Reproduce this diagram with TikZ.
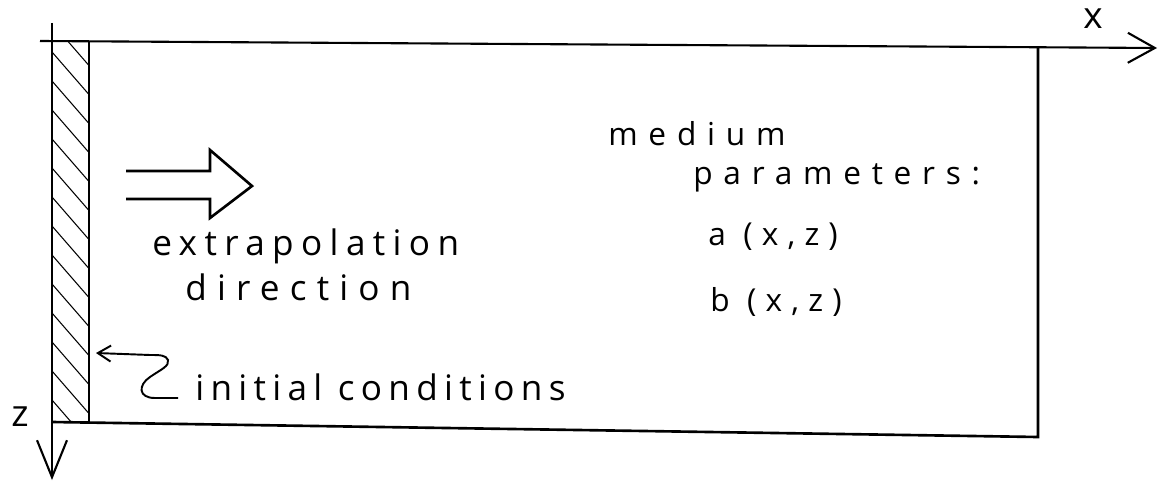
\documentclass[tikz,border=0pt]{standalone}
\usepackage{fontspec}
\usepackage{tikz}
\usetikzlibrary{arrows.meta,positioning,calc}
\newfontfamily\handfont{Open Sans}
\newcommand{\spaced}[1]{\addfontfeature{LetterSpace=#1}}

\begin{document}
\begin{tikzpicture}[x=0.02cm,y=-0.02cm,>=Latex,
    axisline/.style={line width=1.2pt},
    thickline/.style={line width=1.5pt},
    hatchline/.style={line width=0.6pt},
    bigtext/.style={anchor=base west,inner sep=0pt,font=\handfont\fontsize{20}{24}\selectfont},
    smalltext/.style={anchor=base west,inner sep=0pt,font=\handfont\fontsize{18}{22}\selectfont},
    axislabel/.style={inner sep=0pt,font=\handfont\fontsize{21}{24}\selectfont}]
    \useasboundingbox (0,0) rectangle (1158,486);

    % 坐标轴与区域的角点
    \coordinate (xstart) at (40,41);
    \coordinate (xend) at (1157,48);
    \coordinate (ztop) at (52,23);
    \coordinate (zend) at (52,480);
    \coordinate (striptop) at (89,41);
    \coordinate (stripbot) at (89,422);
    \coordinate (corner) at (52,422);
    \coordinate (topright) at (1038,48);
    \coordinate (botright) at (1038,437);

    % x 轴与 z 轴
    \draw[axisline,-{Straight Barb[length=0.54cm,width=0.6cm,line width=1.2pt]}] (xstart) -- (xend);
    \draw[thickline,-{Straight Barb[length=0.74cm,width=0.6cm,line width=1.2pt]}] (ztop) -- (zend);
    \node[axislabel] (xlab) at (1093,19) {x};
    \node[axislabel] (zlab) at (20,417) {z};

    % 计算区域的边界
    \draw[thickline] (striptop) -- (stripbot);
    \draw[thickline] (corner) -- (botright) -- (topright);

    % 初始条件带的斜线
    \begin{scope}
      \clip (52,41) rectangle (89,422);
      \foreach \y in {23,52,...,420}
        \draw[hatchline] (52,\y) -- ++(40,46);
    \end{scope}

    % 外推方向的空心箭头
    \draw[thickline,line join=miter] (126,171) -- (210,171) -- (210,150) -- (252,186)
      -- (210,218) -- (210,199) -- (126,199);

    % 文字说明
    \node[bigtext] (extra) at (152,255) {\spaced{21}extrapolation};
    \node[bigtext] (dirn) at (185,300) {\spaced{29}direction};
    \node[bigtext] (ic) at (195,400) {\spaced{18}initial conditions};
    \node[smalltext] (medium) at (608,146) {\spaced{34}medium};
    \node[smalltext] (params) at (693,184) {\spaced{34}parameters:};
    \node[smalltext] (pa) at (708,245) {\spaced{29}a (x,z)};
    \node[smalltext] (pb) at (710,311) {\spaced{29}b (x,z)};

    % 指向初始条件带的弯曲箭头
    \coordinate (icpt) at (96,353);
    \draw[line width=1.1pt,-{Straight Barb[length=0.26cm,width=0.32cm,line width=1.1pt]}]
      ($(ic.base west)+(-17,-2)$) -- (155,398)
      .. controls (138,398) and (138,385) .. (150,377)
      .. controls (160,370) and (170,366) .. (168,360)
      .. controls (166,355) and (160,355) .. (150,355) -- (icpt);
  \end{tikzpicture}
\end{document}
